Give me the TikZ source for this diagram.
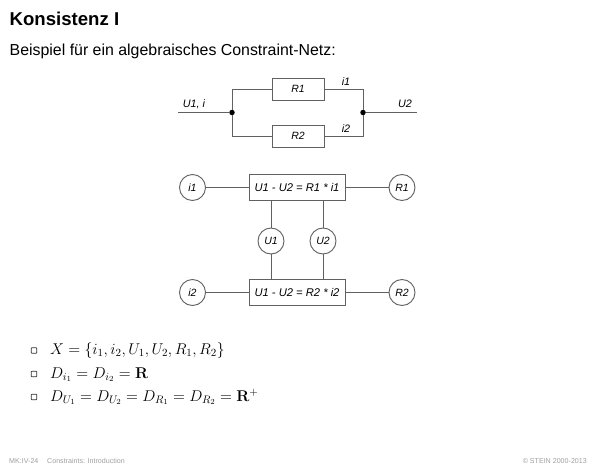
\RequirePackage{fix-cm}
\documentclass[tikz,border=0pt]{standalone}
\usepackage[no-math]{fontspec}
\setmainfont{Liberation Sans}
\definecolor{wire}{gray}{0.38}
\definecolor{foot}{gray}{0.62}
\tikzset{
  part/.style={draw=wire,line width=0.95pt,fill=white,inner sep=0pt,font=\fontsize{10.5}{12}\selectfont\itshape},
  rbox/.style={part,minimum width=52pt,minimum height=22pt},
  cbox/.style={part,minimum width=96pt,minimum height=26.5pt,font=\fontsize{11.2}{13}\selectfont\itshape},
  var/.style={part,circle,minimum size=26pt},
  wirel/.style={draw=wire,line width=0.95pt},
  dot/.style={circle,fill=black,inner sep=0pt,minimum size=5.5pt},
  lab/.style={inner sep=0pt,font=\fontsize{10.8}{12}\selectfont\itshape},
  bul/.style={draw=black!80,line width=0.8pt,fill=white,rounded corners=0.6pt,minimum size=5.5pt,inner sep=0pt},
  mathl/.style={anchor=base west,inner sep=0pt,font=\fontsize{15.6}{18}\selectfont},
  footl/.style={inner sep=0pt,text=foot,font=\fontsize{7.1}{8}\selectfont},
}
\begin{document}
\begin{tikzpicture}[x=1pt,y=-1pt]
\useasboundingbox (0,0) rectangle (600,467);
% headings
\node[anchor=base west,inner sep=0pt,font=\fontsize{18.6}{21}\selectfont\bfseries] (title) at (9.5,25) {Konsistenz I};
\node[anchor=base west,inner sep=0pt,font=\fontsize{15.9}{18}\selectfont] (sub) at (9.5,55) {Beispiel für ein algebraisches Constraint-Netz:};
% circuit
\node[rbox] (r1) at (298,89) {R1};
\node[rbox] (r2) at (298,136) {R2};
\node[dot] (jl) at (232,112.5) {};
\node[dot] (jr) at (363,112.5) {};
\coordinate (in) at (178,112.5);
\coordinate (out) at (417,112.5);
\draw[wirel] (in) -- (jl);
\draw[wirel] (jr) -- (out);
\draw[wirel] (jl) |- (r1);
\draw[wirel] (jl) |- (r2);
\draw[wirel] (jr) |- (r1);
\draw[wirel] (jr) |- (r2);
\node[lab,anchor=base] (lu1) at (194,107.5) {U1, i};
\node[lab,anchor=base] (lu2) at (405,107.5) {U2};
\node[lab,anchor=base] (li1) at (346,85) {i1};
\node[lab,anchor=base] (li2) at (346,132) {i2};
% network
\node[cbox] (c1) at (297,187.5) {U1 - U2 = R1 * i1};
\node[cbox] (c2) at (297,292.5) {U1 - U2 = R2 * i2};
\node[var] (i1) at (192.5,187.5) {i1};
\node[var] (vr1) at (402,187.5) {R1};
\node[var] (u1) at (271,241) {U1};
\node[var] (u2) at (323,241) {U2};
\node[var] (i2) at (192.5,292.5) {i2};
\node[var] (vr2) at (402,292.5) {R2};
\draw[wirel] (i1) -- (c1);
\draw[wirel] (c1) -- (vr1);
\draw[wirel] (i2) -- (c2);
\draw[wirel] (c2) -- (vr2);
\draw[wirel] (u1.north) -- (u1.north |- c1.south);
\draw[wirel] (u2.north) -- (u2.north |- c1.south);
\draw[wirel] (u1.south) -- (u1.south |- c2.north);
\draw[wirel] (u2.south) -- (u2.south |- c2.north);
% list
\node[bul] (b1) at (34,350.5) {};
\node[bul] (b2) at (34,374) {};
\node[bul] (b3) at (34,397) {};
\node[mathl] (m1) at (50,354.5) {$X=\{i_1,i_2,U_1,U_2,R_1,R_2\}$};
\node[mathl] (m2) at (50,378) {$D_{i_1}=D_{i_2}=\mathbf{R}$};
\node[mathl] (m3) at (50,401) {$D_{U_1}=D_{U_2}=D_{R_1}=D_{R_2}=\mathbf{R}^+$};
% footer
\node[footl,anchor=base west] (f1) at (9,463) {MK:IV-24};
\node[footl,anchor=base west] (f2) at (47,463) {Constraints: Introduction};
\node[footl,anchor=base east] (f3) at (587,463) {© STEIN 2000-2013};
\end{tikzpicture}
\end{document}
